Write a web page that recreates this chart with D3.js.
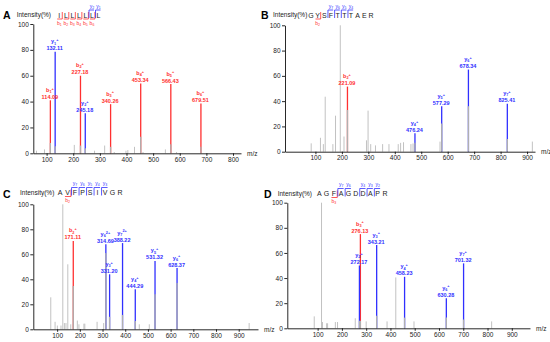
<!DOCTYPE html>
<html>
<head>
<meta charset="utf-8">
<script src="https://d3js.org/d3.v7.min.js"></script>
<style>
body{margin:0;background:#fff;}
svg{display:block;font-family:"Liberation Sans",Arial,sans-serif;}
</style>
</head>
<body>
<svg id="fig" width="550" height="342"></svg>
<script>
// ---- panel A : ILLLLLL ----
var aGreyMz  = [62, 92, 204, 280, 318, 354, 398, 405, 430, 462, 546, 588];
var aGreyInt = [2, 3, 6.5, 2, 6, 1, 2, 2.5, 5, 1, 3, 1];
var aIonMz    = [114.09, 132.11, 227.18, 245.18, 340.26, 453.34, 566.43, 679.51];
var aIonInt   = [41, 78.5, 60, 31, 38, 54, 53.5, 38.5];
var aIonUnder = [8, 5.5, 6, 4, 5, 12.8, 7, 5];
var aIonName  = ["b1", "y1", "b2", "y2", "b3", "b4", "b5", "b6"];
var aIonZ     = ["+", "+", "+", "+", "+", "+", "+", "+"];
var aSeq = ["I", "L", "L", "L", "L", "L", "L"];
var aB = [1, 2, 3, 4, 5, 6];
var aY = [2, 1];

// ---- panel B : GYSFTTTAER ----
var bGreyMz  = [84, 119, 130, 137, 166, 176, 194, 208, 293, 299, 309, 327, 354, 378, 413, 422, 433, 461, 469, 571, 920];
var bGreyInt = [6.6, 11, 6, 43.5, 6, 28.5, 100, 12, 9, 32.5, 6, 5, 6, 6, 6, 7, 7.5, 6, 6.5, 8, 8];
var bIonMz    = [221.09, 476.24, 577.29, 678.34, 825.41];
var bIonInt   = [51.5, 14.5, 36, 65, 38];
var bIonUnder = [33, 7, 22.4, 36, 10];
var bIonName  = ["b2", "y4", "y5", "y6", "y7"];
var bIonZ     = ["+", "+", "+", "+", "+"];
var bSeq = "GYSFTTTAER".split("");
var bB = [2];
var bY = [7, 6, 5, 4];

// ---- panel C : AVFPSIVGR ----
var cGreyMz  = [72, 91, 101, 117, 125, 132, 139, 147, 160, 189, 196, 218, 222, 276, 305, 462, 506, 946];
var cGreyInt = [25.6, 6, 3, 3, 100, 5, 5, 52, 4, 7, 4, 4.5, 4.5, 6, 5, 4, 4, 5];
var cIonMz    = [171.11, 314.69, 331.20, 388.22, 444.29, 531.32, 628.37];
var cIonInt   = [70.7, 68, 44, 69, 32, 54.7, 49];
var cIonUnder = [34.7, 61, 10, 11.5, 6.7, 28, 37];
var cIonName  = ["b2", "y6", "y3", "y7", "y4", "y5", "y6"];
var cIonZ     = ["+", "2+", "+", "2+", "+", "+", "+"];
var cSeq = "AVFPSIVGR".split("");
var cB = [2];
var cY = [7, 6, 5, 4, 3];

// ---- panel D : AGFAGDDAPR ----
var dGreyMz  = [86, 116, 120, 137, 141, 173, 182, 255, 300, 386, 422, 497, 817];
var dGreyInt = [9.5, 100, 5, 4, 4, 5, 5, 8, 5.5, 5.5, 40.5, 5.5, 5.5];
var dIonMz    = [276.13, 272.17, 343.21, 458.23, 630.28, 701.32];
var dIonInt   = [75, 50, 66.3, 41, 24, 51.7];
var dIonUnder = [6, 6, 10, 8.5, 8.5, 7];
var dIonName  = ["b3", "y2", "y3", "y4", "y6", "y7"];
var dIonZ     = ["+", "+", "+", "+", "+", "+"];
var dSeq = "AGFAGDDAPR".split("");
var dB = [3];
var dY = [7, 6, 4, 3, 2];

var yTicks = [0, 20, 40, 60, 80, 100];
var xTicksA = [100, 200, 300, 400, 500, 600, 700, 800];
var xTicks = [100, 200, 300, 400, 500, 600, 700, 800, 900];

var RED = "#ff3030", BLUE = "#3030ff", GREY = "#c2c2c2", UNDER = "#b0b0b0";
var svg = d3.select("#fig");

function ions(mz, it, under, name, z) {
  return mz.map(function(m, i) {
    return {mz: m, int: it[i], under: under[i], name: name[i], z: z[i]};
  });
}

function drawPanel(p) {
  var x = d3.scaleLinear().domain(p.xDom).range(p.xRange);
  var y = d3.scaleLinear().domain([0, 100]).range(p.yRange);
  var g = svg.append("g");

  g.selectAll(".pk").data(d3.zip(p.greyMz, p.greyInt)).enter().append("line")
    .attr("x1", function(d) { return x(d[0]); })
    .attr("x2", function(d) { return x(d[0]); })
    .attr("y1", y(0))
    .attr("y2", function(d) { return y(d[1]); })
    .attr("stroke", GREY).attr("stroke-width", 1);

  var col = function(d) { return d.name[0] == "b" ? RED : BLUE; };

  g.selectAll(".ion").data(p.ions).enter().append("line")
    .attr("x1", function(d) { return x(d.mz); })
    .attr("x2", function(d) { return x(d.mz); })
    .attr("y1", y(0))
    .attr("y2", function(d) { return y(d.int); })
    .attr("stroke", col).attr("stroke-width", 1.3);

  g.selectAll(".und").data(p.ions).enter().append("line")
    .attr("x1", function(d) { return x(d.mz); })
    .attr("x2", function(d) { return x(d.mz); })
    .attr("y1", y(0))
    .attr("y2", function(d) { return y(d.under); })
    .attr("stroke", UNDER).attr("stroke-width", 1.3);

  var lab = g.selectAll(".lab").data(p.ions).enter().append("g")
    .attr("transform", function(d) { return "translate(" + (x(d.mz) - 0.5) + "," + y(d.int) + ")"; })
    .attr("fill", col).attr("font-weight", "bold").attr("text-anchor", "middle");
  lab.append("text").attr("y", -1.5).attr("font-size", 5.5)
    .text(function(d) { return d.mz.toFixed(2); });
  var t = lab.append("text").attr("y", -8.5).attr("font-size", 5.5);
  t.append("tspan").text(function(d) { return d.name[0]; });
  t.append("tspan").attr("font-size", 3.8).attr("dy", 1.2).text(function(d) { return d.name.slice(1); });
  t.append("tspan").attr("font-size", 3.8).attr("dy", -3.4).text(function(d) { return d.z; });

  var xa = g.append("g").attr("transform", "translate(0," + y(0) + ")")
    .call(d3.axisBottom(x).tickValues(p.xTicks).tickSize(2.5).tickSizeOuter(0).tickPadding(1.5));
  var ya = g.append("g").attr("transform", "translate(" + p.xRange[0] + ",0)")
    .call(d3.axisLeft(y).tickValues(yTicks).tickSize(3).tickSizeOuter(0).tickPadding(1.5));
  [xa, ya].forEach(function(a) {
    a.selectAll("text").attr("font-size", 6.5).attr("font-family", null).attr("fill", "#222");
    a.selectAll("line, path").attr("stroke", "#111").attr("stroke-width", 0.9);
  });

  g.append("text").attr("x", p.xRange[1] + 6).attr("y", y(0) + 2.5)
    .attr("font-size", 6.5).attr("fill", "#222").text("m/z");
  g.append("text").attr("x", p.letter[1]).attr("y", p.letter[2])
    .attr("font-size", 10.5).attr("font-weight", "bold").text(p.letter[0]);
}

function drawSeq(s) {
  var g = svg.append("g");
  var ym = s.yMid;
  g.append("text").attr("x", s.labX).attr("y", ym + 2.3).attr("font-size", 6.5).attr("fill", "#222").text("Intensity(%)");
  var n = s.seq.length;
  var sx = d3.scaleLinear().domain([0, n - 1]).range([s.x0, s.x1]);
  var sp = sx(1) - sx(0);
  g.selectAll(".aa").data(s.seq).enter().append("text")
    .attr("x", function(d, i) { return sx(i); })
    .attr("y", ym + 2.5).attr("text-anchor", "middle").attr("font-size", 7).attr("fill", "#222")
    .text(function(d) { return d; });

  g.selectAll(".bm").data(s.b).enter().append("path")
    .attr("d", function(k) {
      var xr = sx(k - 1) + sp / 2 - 0.3, xl = sx(k - 1) - sp / 2 + 1.2;
      return "M" + xr + "," + (ym - 3) + "V" + (ym + 4) + "H" + xl;
    })
    .attr("fill", "none").attr("stroke", RED).attr("stroke-width", 0.8);
  var bt = g.selectAll(".bl").data(s.b).enter().append("text")
    .attr("x", function(k) { return sx(k - 1); }).attr("y", ym + 9.5)
    .attr("text-anchor", "middle").attr("font-size", 5).attr("fill", RED);
  bt.append("tspan").text("b");
  bt.append("tspan").attr("font-size", 3.5).attr("dy", 1).text(function(k) { return k; });

  g.selectAll(".ym").data(s.y).enter().append("path")
    .attr("d", function(k) {
      var j = n - k, xl = sx(j) - sp / 2 + 0.3, xr = sx(j) + sp / 2 - 1.2;
      return "M" + xl + "," + (ym + 3) + "V" + (ym - 5) + "H" + xr;
    })
    .attr("fill", "none").attr("stroke", BLUE).attr("stroke-width", 0.8);
  var yt = g.selectAll(".yl").data(s.y).enter().append("text")
    .attr("x", function(k) { return sx(n - k); }).attr("y", ym - 7.5)
    .attr("text-anchor", "middle").attr("font-size", 5).attr("fill", BLUE);
  yt.append("tspan").text("y");
  yt.append("tspan").attr("font-size", 3.5).attr("dy", 1).text(function(k) { return k; });
}

drawPanel({xDom: [50, 830], xRange: [33.3, 241], yRange: [153.3, 24], xTicks: xTicksA,
  greyMz: aGreyMz, greyInt: aGreyInt, ions: ions(aIonMz, aIonInt, aIonUnder, aIonName, aIonZ), letter: ["A", 3, 19]});
drawPanel({xDom: [-15, 930], xRange: [285, 535], yRange: [151.7, 25.3], xTicks: xTicks,
  greyMz: bGreyMz, greyInt: bGreyInt, ions: ions(bIonMz, bIonInt, bIonUnder, bIonName, bIonZ), letter: ["B", 261, 19]});
drawPanel({xDom: [-5, 985], xRange: [33.3, 258], yRange: [329.3, 204.3], xTicks: xTicks,
  greyMz: cGreyMz, greyInt: cGreyInt, ions: ions(cIonMz, cIonInt, cIonUnder, cIonName, cIonZ), letter: ["C", 3, 198]});
drawPanel({xDom: [-25, 975], xRange: [287.3, 530], yRange: [328.3, 202.7], xTicks: xTicks,
  greyMz: dGreyMz, greyInt: dGreyInt, ions: ions(dIonMz, dIonInt, dIonUnder, dIonName, dIonZ), letter: ["D", 264, 198]});

drawSeq({seq: aSeq, b: aB, y: aY, yMid: 15, x0: 59.3, x1: 98.5, labX: 16.7});
drawSeq({seq: bSeq, b: bB, y: bY, yMid: 15, x0: 311, x1: 371, labX: 273});
drawSeq({seq: cSeq, b: cB, y: cY, yMid: 192.5, x0: 60, x1: 120, labX: 20});
drawSeq({seq: dSeq, b: dB, y: dY, yMid: 193.5, x0: 319.3, x1: 385, labX: 277.7});
</script>
</body>
</html>
